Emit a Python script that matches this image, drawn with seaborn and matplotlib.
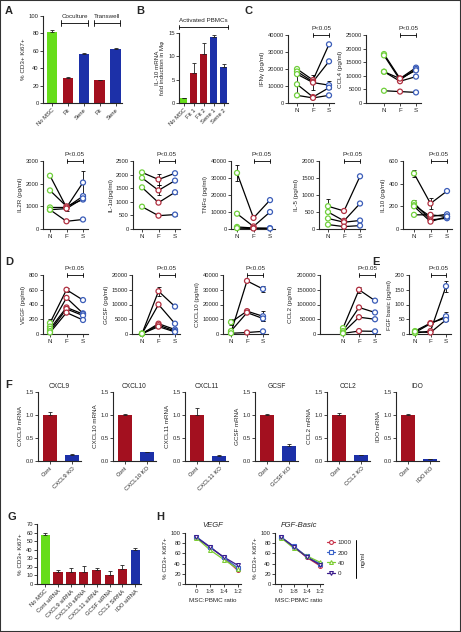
import numpy as np
import pandas as pd
import matplotlib
matplotlib.use('Agg')
import matplotlib.pyplot as plt
import matplotlib.ticker as mticker
from matplotlib.lines import Line2D
from matplotlib.patches import Rectangle
import seaborn as sns

# ---------------- data ----------------
conds = ['N', 'F', 'S']

# A: proliferation (% CD3+ Ki67+)
a_labels = ['No MSC', 'Fit', 'Sene', 'Fit', 'Sene']
a_vals = [82, 29, 56, 26, 62]
a_err = [1.5, 1.0, 2.0, 0.8, 1.0]

# B: IL-10 mRNA induction
b_labels = ['No MSC', 'Fit 1', 'Fit 2', 'Sene 1', 'Sene 2']
b_vals = [1.0, 6.5, 10.5, 14.2, 7.8]
b_err = [0.15, 2.0, 2.4, 0.3, 0.6]

# C / D / E: cytokines per donor (N, F, S)
ifng = [[20000, 13500, 34500], [18500, 12500, 24500], [17000, 12000, 10500],
        [11000, 3500, 9000], [4500, 3000, 4500]]
ifng_err = [[0, 0, 0], [0, 0, 0], [0, 4500, 2500], [5500, 0, 0], [0, 0, 0]]
ccl4 = [[18000, 9000, 13000], [17500, 8500, 12500], [11500, 8000, 9700],
        [11500, 9000, 12000], [4500, 4200, 3900]]
il2r = [[2350, 950, 1450], [1700, 1000, 1300], [950, 950, 2050],
        [850, 900, 1350], [850, 340, 420]]
il2r_err = [[0, 0, 0], [0, 0, 0], [0, 0, 500], [0, 100, 0], [0, 0, 0]]
il1a = [[2080, 1820, 2050], [1880, 1420, 1780], [1530, 970, 1350], [820, 490, 530]]
il1a_err = [[0, 220, 0], [0, 180, 0], [0, 0, 60], [0, 0, 60]]
tnfa = [[33000, 6500, 17000], [9000, 1500, 10000], [1200, 600, 500], [500, 300, 300]]
tnfa_err = [[4500, 0, 0], [0, 0, 0], [0, 0, 0], [0, 0, 0]]
il5 = [[670, 530, 1550], [500, 240, 750], [310, 200, 250], [130, 70, 100]]
il5_err = [[210, 0, 0], [0, 0, 0], [0, 0, 0], [0, 0, 0]]
il10 = [[490, 225, 335], [230, 80, 95], [210, 110, 130], [200, 65, 110], [125, 125, 110]]
il10_err = [[30, 45, 0], [25, 0, 0], [0, 0, 0], [0, 0, 0], [0, 0, 0]]
vegf = [[150, 600, 460], [100, 490, 280], [70, 360, 270], [40, 340, 250], [20, 290, 190]]
vegf_err = [[50, 30, 0], [0, 0, 0], [0, 0, 0], [0, 0, 0], [0, 0, 0]]
gcsf = [[100, 14500, 9300], [100, 10000, 3500], [100, 3500, 1500],
        [100, 3000, 1000], [100, 2500, 700]]
gcsf_err = [[0, 1500, 0], [0, 0, 0], [0, 0, 0], [0, 0, 0], [0, 0, 0]]
cxcl10 = [[1000, 36000, 30500], [8000, 15500, 12000], [2000, 14500, 10500], [500, 1000, 1800]]
cxcl10_err = [[0, 0, 2000], [2000, 1500, 3500], [0, 0, 2000], [0, 0, 0]]
ccl2 = [[20000, 150000, 113000], [10000, 90000, 73000], [5000, 57000, 50000],
        [2000, 10000, 9000]]
ccl2_err = [[0, 10000, 0], [0, 0, 0], [0, 0, 0], [0, 0, 0]]
fgf = [[10, 37, 55], [5, 35, 60], [3, 10, 162], [8, 5, 48]]
fgf_err = [[0, 0, 0], [0, 0, 15], [0, 0, 18], [0, 0, 0]]

# F: knockdown mRNA
genes = ['CXCL9', 'CXCL10', 'CXCL11', 'GCSF', 'CCL2', 'IDO']
cont_vals = [1.0, 1.0, 1.0, 1.0, 1.0, 1.0]
cont_err = [0.06, 0.02, 0.15, 0.02, 0.04, 0.02]
ko_vals = [0.13, 0.19, 0.11, 0.32, 0.12, 0.04]
ko_err = [0.03, 0.01, 0.03, 0.04, 0.02, 0.01]

# G: siRNA proliferation
g_labels = ['No MSC', 'Cont siRNA', 'CXCL9 siRNA', 'CXCL10 siRNA', 'CXCL11 siRNA',
            'GCSF siRNA', 'CCL2 SiRNA', 'IDO siRNA']
g_vals = [57, 14, 14.5, 14.5, 16, 10.5, 17.5, 40]
g_err = [3, 2, 4, 6, 3, 4.5, 4.5, 1.5]

# H: dose series vs MSC:PBMC ratio
ratios = ['0', '1:8', '1:4', '1:2']
doses = ['1000', '200', '40', '0']
h_vegf = [[92, 73, 52, 27], [93, 73, 52, 32], [91, 67, 48, 30], [92, 72, 53, 37]]
h_fgf = [[92, 73, 52, 36], [92, 74, 54, 40], [91, 70, 55, 43], [92, 73, 53, 38]]

# ---------------- style ----------------
GREEN = '#66dd1a'
RED = '#a3101f'
BLUE = '#1c30a8'
PT_COLORS = {'N': '#6fcf3a', 'F': '#b03040', 'S': '#3a5cb8'}
DOSE_COLORS = ['#c8324a', '#3a62c8', '#7ccd32', '#3b1c8c']
DOSE_MARKERS = ['o', 's', '^', 'v']

sns.set_style('ticks')
plt.rcParams['font.family'] = ['Liberation Sans', 'DejaVu Sans']
plt.rcParams['axes.linewidth'] = 0.8
plt.rcParams['xtick.major.width'] = 0.6
plt.rcParams['ytick.major.width'] = 0.6
plt.rcParams['xtick.major.size'] = 2
plt.rcParams['ytick.major.size'] = 2
plt.rcParams['xtick.major.pad'] = 1.5
plt.rcParams['ytick.major.pad'] = 1
TICK_FS = 4.2
LAB_FS = 4.5

W, H = 461, 632
fig = plt.figure(figsize=(W / 100, H / 100), dpi=100)


def px_axes(left, top, right, bottom):
    return fig.add_axes([left / W, 1 - bottom / H, (right - left) / W, (bottom - top) / H])


def fig_text(x, y, s, **kw):
    fig.text(x / W, 1 - y / H, s, **kw)


def finish(ax, ylabel, ymax, step, fmt='%d'):
    sns.despine(ax=ax)
    ax.set_ylim(0, ymax)
    ax.set_yticks(np.arange(0, ymax + step / 2, step))
    ax.yaxis.set_major_formatter(mticker.FormatStrFormatter(fmt))
    ax.tick_params(labelsize=TICK_FS)
    ax.set_ylabel(ylabel, fontsize=LAB_FS, labelpad=2)
    ax.set_xlabel('')


def bracket(ax, x0, x1, y, text, dy=0.035):
    tr = ax.get_xaxis_transform()
    ax.plot([x0, x1], [y, y], color='black', lw=0.6, transform=tr, clip_on=False)
    for xx in (x0, x1):
        ax.plot([xx, xx], [y - dy, y + dy], color='black', lw=0.6, transform=tr, clip_on=False)
    ax.text((x0 + x1) / 2, y + 0.06, text, ha='center', va='bottom', fontsize=LAB_FS,
            transform=tr)


def bar_panel(ax, labels, vals, errs, colors, width=0.65):
    keys = ['b%d' % i for i in range(len(vals))]
    df = pd.DataFrame({'k': keys, 'v': vals})
    sns.barplot(data=df, x='k', y='v', hue='k', palette=dict(zip(keys, colors)),
                legend=False, width=width, ax=ax, edgecolor='none', saturation=1)
    ax.errorbar(range(len(vals)), vals, yerr=[np.zeros(len(vals)), errs], fmt='none',
                ecolor='#222222', elinewidth=0.6, capsize=1.5, capthick=0.6)
    ax.set_xticks(range(len(vals)))
    ax.set_xticklabels(labels, rotation=45, ha='right', rotation_mode='anchor',
                       fontsize=LAB_FS)


def line_panel(left, nx, sx, top, bottom, vals, errs, ylabel, ymax, step):
    right = sx + 5
    unit = (sx - nx) / 2
    ax = px_axes(left, top, right, bottom)
    rows = []
    for d, row in enumerate(vals):
        for c, v in enumerate(row):
            e = errs[d][c] if errs is not None else 0
            rows.append({'donor': d, 'x': c, 'cond': conds[c], 'v': v, 'e': e})
    df = pd.DataFrame(rows)
    sns.lineplot(data=df, x='x', y='v', units='donor', estimator=None, color='black',
                 lw=0.9, ax=ax, legend=False)
    de = df[df['e'] > 0]
    if len(de):
        ax.errorbar(de['x'], de['v'], yerr=de['e'], fmt='none', ecolor='black',
                    elinewidth=0.6, capsize=1.5, capthick=0.6, zorder=2)
    sns.scatterplot(data=df, x='x', y='v', hue='cond', palette=PT_COLORS, s=13,
                    linewidth=0.9, ax=ax, legend=False, zorder=3, clip_on=False)
    coll = ax.collections[-1]
    coll.set_edgecolors(coll.get_facecolors())
    coll.set_facecolors('white')
    finish(ax, ylabel, ymax, step)
    ax.set_xticks([0, 1, 2])
    ax.set_xticklabels(conds, fontsize=LAB_FS)
    ax.set_xlim(-(nx - left) / unit, 2 + (right - sx) / unit)
    bracket(ax, 1, 2, 1.0, 'P<0.05')
    return ax


# ---------------- A ----------------
ax = px_axes(43, 16, 122, 103)
bar_panel(ax, a_labels, a_vals, a_err, [GREEN, RED, BLUE, RED, BLUE])
finish(ax, '% CD3+ Ki67+', 100, 20)
ax.set_xlim(-0.55, 4.4)
for (x0, x1, s) in [(0.6, 2.25, 'Coculture'), (2.65, 4.25, 'Transwell')]:
    ax.plot([x0, x1], [92, 92], color='black', lw=0.6, clip_on=False)
    for xx in (x0, x1):
        ax.plot([xx, xx], [89, 95], color='black', lw=0.6, clip_on=False)
    ax.text((x0 + x1) / 2, 97, s, ha='center', va='bottom', fontsize=LAB_FS)

# ---------------- B ----------------
ax = px_axes(179, 33, 228, 103)
bar_panel(ax, b_labels, b_vals, b_err, [GREEN, RED, RED, BLUE, BLUE])
finish(ax, 'IL-10 mRNA\nfold induction in M\u03c6', 15, 5)
ax.set_xlim(-0.45, 4.45)
ax.plot([-0.45, 4.45], [16.3, 16.3], color='black', lw=0.6, clip_on=False)
for xx in (-0.45, 4.45):
    ax.plot([xx, xx], [15.8, 16.8], color='black', lw=0.6, clip_on=False)
ax.text(2, 17.2, 'Activated PBMCs', ha='center', va='bottom', fontsize=LAB_FS)

# ---------------- C ----------------
line_panel(288, 297, 329, 35, 103, ifng, ifng_err, 'IFN\u03b3 (pg/ml)', 40000, 10000)
line_panel(366, 384, 416, 35, 103, ccl4, None, 'CCL4 (pg/ml)', 25000, 5000)

# row 2
line_panel(43, 50, 83, 161, 229, il2r, il2r_err, 'IL2R (pg/ml)', 3000, 1000)
line_panel(133, 142, 175, 161, 229, il1a, il1a_err, 'IL-1\u03b1(pg/ml)', 2500, 500)
line_panel(231, 237, 270, 161, 229, tnfa, tnfa_err, 'TNF\u03b1 (pg/ml)', 40000, 10000)
line_panel(319, 328, 360, 161, 229, il5, il5_err, 'IL-5 (pg/ml)', 2000, 500)
line_panel(403, 414, 447, 161, 229, il10, il10_err, 'IL10 (pg/ml)', 600, 200)

# ---------------- D / E ----------------
line_panel(43, 50, 83, 275, 334, vegf, vegf_err, 'VEGF (pg/ml)', 800, 200)
line_panel(132, 142, 175, 275, 334, gcsf, gcsf_err, 'GCSF (pg/ml)', 20000, 5000)
line_panel(223, 231, 263, 275, 334, cxcl10, cxcl10_err, 'CXCL10 (pg/ml)', 40000, 10000)
line_panel(320, 343, 375, 275, 334, ccl2, ccl2_err, 'CCL2 (pg/ml)', 200000, 50000)
line_panel(409, 415, 446, 275, 334, fgf, fgf_err, 'FGF basic (pg/ml)', 200, 50)

# ---------------- F ----------------
f_left = [38, 113, 185, 255, 327, 396]
for i, g in enumerate(genes):
    ax = px_axes(f_left[i], 392, f_left[i] + 43, 461)
    bar_panel(ax, ['Cont', g + ' KO'], [cont_vals[i], ko_vals[i]],
              [cont_err[i], ko_err[i]], [RED, BLUE])
    finish(ax, g + ' mRNA', 1.5, 0.5, fmt='%.1f')
    ax.set_xlim(-0.55, 1.4)
    ax.set_title(g, fontsize=LAB_FS + 0.3, pad=3)

# ---------------- G ----------------
ax = px_axes(37, 524, 141, 584)
bar_panel(ax, g_labels, g_vals, g_err, [GREEN] + [RED] * 6 + [BLUE], width=0.72)
finish(ax, '% CD3+ Ki67+', 70, 10)
ax.set_xlim(-0.64, 7.45)


# ---------------- H ----------------
def dose_panel(left, right, data, title, xl):
    ax = px_axes(left, 533, right, 584)
    rows = []
    for d, row in enumerate(data):
        for r, v in enumerate(row):
            rows.append({'dose': doses[d], 'x': r, 'v': v})
    df = pd.DataFrame(rows)
    sns.lineplot(data=df, x='x', y='v', hue='dose', hue_order=doses,
                 palette=DOSE_COLORS, lw=0.9, ax=ax, legend=False)
    for d in range(len(doses)):
        sub = df[df['dose'] == doses[d]]
        ax.plot(sub['x'], sub['v'], ls='none', marker=DOSE_MARKERS[d], ms=2.8,
                mfc='white', mec=DOSE_COLORS[d], mew=0.8, clip_on=False)
    finish(ax, '% CD3+ Ki67+', 100, 20)
    ax.set_xticks(range(len(ratios)))
    ax.set_xticklabels(ratios, fontsize=LAB_FS)
    ax.set_xlim(xl, 3.25)
    ax.set_xlabel('MSC:PBMC ratio', fontsize=LAB_FS, labelpad=3)
    ax.set_title(title, fontsize=LAB_FS + 1, style='italic', pad=4)
    return ax


dose_panel(185, 241, h_vegf, 'VEGF', -0.8)
ax = dose_panel(275, 323, h_fgf, 'FGF-Basic', -0.45)
handles = [Line2D([], [], color=DOSE_COLORS[d], marker=DOSE_MARKERS[d], ms=2.8,
                  mfc='white', mew=0.8, lw=0.9) for d in range(len(doses))]
fig.legend(handles, doses, loc='upper left', bbox_to_anchor=(324 / W, 1 - 537 / H),
           fontsize=LAB_FS, frameon=False, handlelength=1.3, handletextpad=0.4,
           labelspacing=0.75, borderpad=0)
fig.add_artist(Line2D([356 / W, 356 / W], [1 - 540 / H, 1 - 578 / H], color='black', lw=0.7))
fig_text(363, 559, 'ng/ml', rotation=90, ha='center', va='center', fontsize=LAB_FS)

# ---------------- panel letters ----------------
for s, x, y in [('A', 5, 11), ('B', 136, 11), ('C', 244, 11), ('D', 5, 262),
                ('E', 372, 262), ('F', 5, 385), ('G', 7, 517), ('H', 156, 517)]:
    fig_text(x, y, s, fontsize=8, fontweight='bold', ha='left', va='center')

fig.add_artist(Rectangle((0, 0), 1, 1, transform=fig.transFigure, fill=False,
                         edgecolor='#333333', lw=1.5))

fig.savefig('out.png', dpi=100)
